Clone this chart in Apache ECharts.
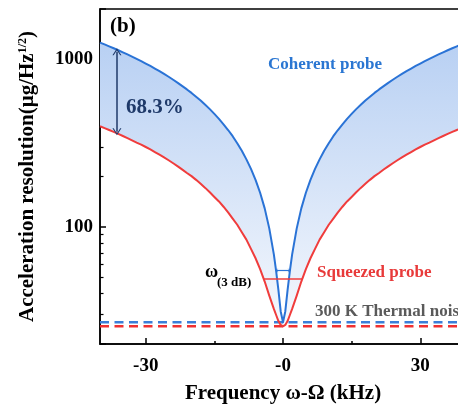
<!DOCTYPE html>
<html><head><meta charset="utf-8">
<script src="https://cdn.jsdelivr.net/npm/echarts@6/dist/echarts.min.js"></script>
<style>html,body{margin:0;padding:0;background:#fff}#c{width:458px;height:407px}</style>
</head><body><div id="c"></div>
<script>
// ---- data ----
const freq = [-40,-39,-38,-37,-36,-35,-34,-33,-32,-31,-30,-29,-28,-27,-26,-25,-24,-23,-22,-21,-20,-19,-18,-17,-16,-15,-14,-13,-12,-11,-10,-9,-8,-7,-6,-5,-4,-3,-2,-1.5,-1,-0.5,0,0.5,1,1.5,2,3,4,5,6,7,8,9,10,11,12,13,14,15,16,17,18,19,20,21,22,23,24,25,26,27,28,29,30,31,32,33,34,35,36,37,38,39,40];
const coherent = [1260,1229,1197,1166,1134,1103,1071,1040,1008,977,945,914,882,851,819,788,756,725,693,662,631,599,568,536,505,473,442,410,379,348,316,285,253,222,191,160,129,98,68.5,54.4,41.9,31.3,27,31.3,41.9,54.4,68.5,98,129,160,191,222,253,285,316,348,379,410,442,473,505,536,568,599,631,662,693,725,756,788,819,851,882,914,945,977,1008,1040,1071,1103,1134,1166,1197,1229,1260];
const squeezed = [399,389,379,369,359,349,339,329,319,310,300,290,280,270,260,250,240,230,220,210,201,191,181,171,161,151,142,132,122,112,103,93,84,74,65,56,47.2,38.9,32.4,29.8,27.4,26,25.5,26,27.4,29.8,32.4,38.9,47.2,56,65,74,84,93,103,112,122,132,142,151,161,171,181,191,201,210,220,230,240,250,260,270,280,290,300,310,319,329,339,349,359,369,379,389,399];
const thermalX = [-40, 40];
const thermalCoherent = [27, 27];
const thermalSqueezed = [25.5, 25.5];
const xTicks = [-30, 0, 30];
const xMinorTicks = [-15, 15];
const yMinorTicks = [30,40,50,60,70,80,90,200,300,400,500,600,700,800,900];
const arrowX = -36.3, arrowTop = 1110, arrowBottom = 370;
const w3dBRed = {x0: -4.15, x1: 4.15, y: 49};
const w3dBBlue = {x0: -1.4, x1: 1.4, y: 55};

const SERIF = '"Liberation Serif","Times New Roman",serif';
const BLUE = '#2a73d6', RED = '#f03c3c', NAVY = '#1f3a6a';
const chevron = 'path://M0,10 L5,0 L10,10 L8.6,10 L5,2.6 L1.4,10 Z';

const pair = (xs, ys) => xs.map((x, i) => [x, ys[i]]);
const bluePts = pair(freq, coherent);
const redPts = pair(freq, squeezed);

const chart = echarts.init(document.getElementById('c'), null, {renderer: 'canvas'});
const labelStyle = {color: '#000', fontWeight: 'bold', fontFamily: SERIF, fontSize: 19};
chart.setOption({
  animation: false,
  grid: {left: 100, top: 9, right: -8, bottom: 63, outerBoundsMode: 'none', containLabel: false,
    show: true, borderColor: '#000', borderWidth: 1.5, backgroundColor: 'transparent'},
  xAxis: [{
    type: 'value', min: -40, max: 40, position: 'bottom',
    name: 'Frequency ω-Ω (kHz)', nameLocation: 'middle', nameGap: 39,
    nameTextStyle: {color: '#000', fontWeight: 'bold', fontFamily: SERIF, fontSize: 21},
    axisLine: {show: true, onZero: false, lineStyle: {color: '#000', width: 1.5}},
    axisTick: {show: true, inside: true, length: 6, customValues: xTicks, lineStyle: {color: '#000', width: 1.5}},
    axisLabel: Object.assign({customValues: xTicks, margin: 13, formatter: v => v === 0 ? '-0' : String(v)}, labelStyle),
    splitLine: {show: false}
  }, {
    type: 'value', min: -40, max: 40, position: 'bottom',
    axisLine: {show: false, onZero: false},
    axisTick: {show: true, inside: true, length: 3, customValues: xMinorTicks, lineStyle: {color: '#000', width: 1.5}},
    axisLabel: {show: false}, splitLine: {show: false}
  }],
  yAxis: [{
    type: 'log', logBase: 10, min: 20, max: 2000, position: 'left',
    name: 'Acceleration resolution(μg/Hz{sup|1/2})', nameLocation: 'middle', nameGap: 62, nameRotate: 90,
    nameTextStyle: {color: '#000', fontWeight: 'bold', fontFamily: SERIF, fontSize: 21,
      rich: {sup: {fontSize: 12, fontWeight: 'bold', fontFamily: SERIF, color: '#000', verticalAlign: 'top'}}},
    axisLine: {show: true, onZero: false, lineStyle: {color: '#000', width: 1.5}},
    axisTick: {show: true, inside: true, length: 6, lineStyle: {color: '#000', width: 1.5}},
    axisLabel: Object.assign({margin: 7, padding: [4, 0, 0, 0], formatter: v => {
      const l = Math.log10(v); return Math.abs(l - Math.round(l)) < 1e-6 ? String(Math.round(v)) : '';
    }}, labelStyle),
    splitLine: {show: false}
  }, {
    type: 'log', logBase: 10, min: 20, max: 2000, position: 'left',
    axisLine: {show: false, onZero: false},
    axisTick: {show: true, inside: true, length: 3.5, customValues: yMinorTicks, lineStyle: {color: '#000', width: 1.2}},
    axisLabel: {show: false}, splitLine: {show: false}
  }],
  series: [{
    name: 'Band', type: 'custom', clip: true, silent: true, z: 1,
    data: [0],
    renderItem: (params, api) => {
      const pts = [];
      for (let i = 0; i < freq.length; i++) pts.push(api.coord([freq[i], coherent[i]]));
      for (let i = freq.length - 1; i >= 0; i--) pts.push(api.coord([freq[i], squeezed[i]]));
      return {type: 'polygon', shape: {points: pts}, style: {
        fill: new echarts.graphic.LinearGradient(0, 0, 0, 1, [
          {offset: 0, color: '#b8d0f3'}, {offset: 1, color: '#f5f8fd'}]), stroke: 'none'}};
    }
  }, {
    name: 'Squeezed probe', type: 'line', data: redPts, showSymbol: false, smooth: false,
    lineStyle: {color: RED, width: 2, join: 'round'}, z: 3, silent: true
  }, {
    name: 'Coherent probe', type: 'line', data: bluePts, showSymbol: false, smooth: false,
    lineStyle: {color: BLUE, width: 2, join: 'round'}, z: 3, silent: true
  }, {
    name: 'Thermal coherent', type: 'line', data: pair(thermalX, thermalCoherent), showSymbol: false,
    lineStyle: {color: '#3a7fd9', width: 2.5, type: [9, 5.5]}, z: 2, silent: true,
    markLine: {silent: true, animation: false, label: {show: false}, symbol: 'none',
      data: [
        [{coord: [arrowX, arrowTop], symbol: chevron, symbolSize: [9, 7], lineStyle: {color: NAVY, width: 1.5, type: 'solid'}},
         {coord: [arrowX, arrowBottom], symbol: chevron, symbolSize: [9, 7]}],
        [{coord: [w3dBBlue.x0, w3dBBlue.y], symbol: chevron, symbolSize: [4, 3], lineStyle: {color: BLUE, width: 1.2, type: 'solid'}},
         {coord: [w3dBBlue.x1, w3dBBlue.y], symbol: chevron, symbolSize: [4, 3]}]
      ]}
  }, {
    name: 'Thermal squeezed', type: 'line', data: pair(thermalX, thermalSqueezed), showSymbol: false,
    lineStyle: {color: '#f03030', width: 2.5, type: [9, 5.5]}, z: 2, silent: true,
    markLine: {silent: true, animation: false, label: {show: false}, symbol: 'none',
      data: [[{coord: [w3dBRed.x0, w3dBRed.y], lineStyle: {color: RED, width: 1.5, type: 'solid'}},
              {coord: [w3dBRed.x1, w3dBRed.y]}]]}
  }],
  graphic: [
    {type: 'text', x: 110, y: 27, z: 10, style: {text: '(b)', fill: '#000', font: 'bold 21px ' + SERIF, verticalAlign: 'middle'}},
    {type: 'text', x: 126, y: 108, z: 10, style: {text: '68.3%', fill: NAVY, font: 'bold 21px ' + SERIF, verticalAlign: 'middle'}},
    {type: 'text', x: 268, y: 65, z: 10, style: {text: 'Coherent probe', fill: '#2a76d2', font: 'bold 17px ' + SERIF, verticalAlign: 'middle'}},
    {type: 'text', x: 317, y: 273, z: 10, style: {text: 'Squeezed probe', fill: '#e83a3a', font: 'bold 17px ' + SERIF, verticalAlign: 'middle'}},
    {type: 'text', x: 315, y: 311.5, z: 10, style: {text: '300 K Thermal noise', fill: '#5a5a5a', font: 'bold 17px ' + SERIF, verticalAlign: 'middle'}},
    {type: 'text', x: 205, y: 272, z: 10, style: {text: 'ω', fill: '#000', font: 'bold 18px ' + SERIF, verticalAlign: 'middle'}},
    {type: 'text', x: 217, y: 283, z: 10, style: {text: '(3 dB)', fill: '#000', font: 'bold 13px ' + SERIF, verticalAlign: 'middle'}}
  ]
});
</script>
</body></html>
